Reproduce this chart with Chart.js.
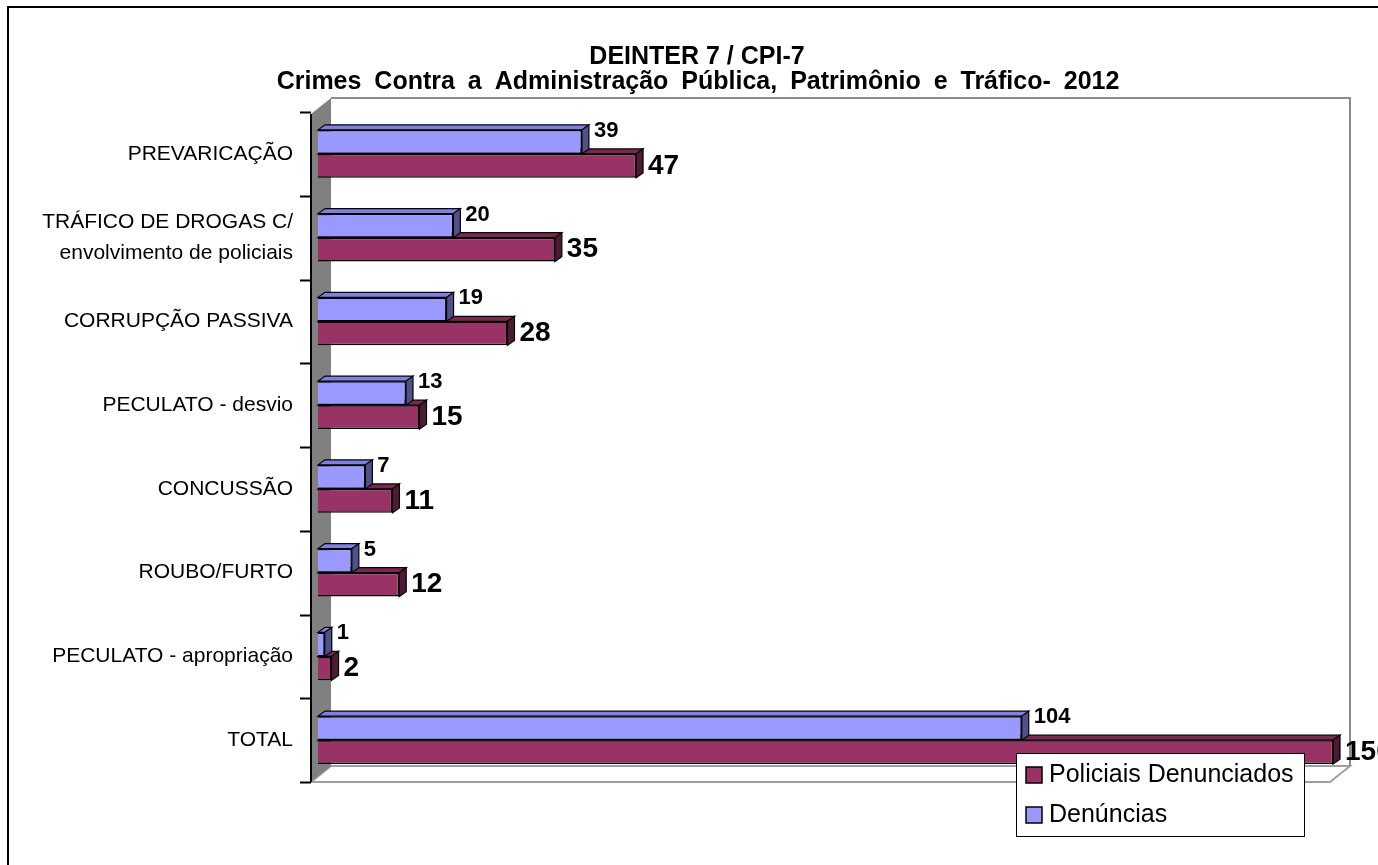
<!DOCTYPE html>
<html>
<head>
<meta charset="utf-8">
<script src="https://cdn.jsdelivr.net/npm/chart.js@4.4.1/dist/chart.umd.min.js"></script>
<style>
  body { margin: 0; background: #fff; }
  canvas { display: block; }
</style>
</head>
<body>
<canvas id="chart" width="1378" height="865"></canvas>
<script>
const categories = [
  'PREVARICAÇÃO',
  ['TRÁFICO DE DROGAS C/', 'envolvimento de policiais'],
  'CORRUPÇÃO PASSIVA',
  'PECULATO - desvio',
  'CONCUSSÃO',
  'ROUBO/FURTO',
  'PECULATO - apropriação',
  'TOTAL'
];
const denuncias = [39, 20, 19, 13, 7, 5, 1, 104];
const policiais = [47, 35, 28, 15, 11, 12, 2, 150];
const xMax = 150;
const titleLines = ['DEINTER 7 / CPI-7', 'Crimes Contra a Administração Pública, Patrimônio e Tráfico- 2012'];

const FONT = '"Liberation Sans", Arial, sans-serif';
const DEPTH_X = 7, DEPTH_Y = 5;     // bar extrusion
const WALL_X = 20, WALL_Y = 16;     // wall / floor depth

// side and top colours of the 3D bars
const shades = {
  '#9999ff': { top: '#8080e0', side: '#50508a' },
  '#993366': { top: '#7a2850', side: '#4e1a34' }
};

const threeD = {
  id: 'threeD',
  beforeDatasetsDraw(chart) {
    const { ctx, chartArea } = chart;
    const { top, bottom, right } = chartArea;
    const x0 = chartArea.left - 7;
    ctx.save();

    // floor
    ctx.fillStyle = '#ffffff';
    ctx.strokeStyle = '#a0a0a0';
    ctx.lineWidth = 2;
    ctx.beginPath();
    ctx.moveTo(x0, bottom);
    ctx.lineTo(right - 3, bottom);
    ctx.lineTo(right - 3 + WALL_X, bottom - WALL_Y);
    ctx.lineTo(x0 + WALL_X, bottom - WALL_Y);
    ctx.closePath();
    ctx.fill();
    ctx.stroke();

    // back wall outline
    ctx.strokeStyle = '#8c8c8c';
    ctx.beginPath();
    ctx.moveTo(x0 + WALL_X, top - WALL_Y + 2);
    ctx.lineTo(right - 3 + WALL_X, top - WALL_Y + 2);
    ctx.lineTo(right - 3 + WALL_X, bottom - WALL_Y);
    ctx.stroke();

    // left wall
    ctx.fillStyle = '#808080';
    ctx.beginPath();
    ctx.moveTo(x0, bottom);
    ctx.lineTo(x0, top + 2);
    ctx.lineTo(x0 + WALL_X, top - WALL_Y + 2);
    ctx.lineTo(x0 + WALL_X, bottom - WALL_Y);
    ctx.closePath();
    ctx.fill();

    // axis line and tick marks
    ctx.strokeStyle = '#000';
    ctx.lineWidth = 2;
    ctx.beginPath();
    ctx.moveTo(x0, top + 2);
    ctx.lineTo(x0, bottom);
    const step = (bottom - top) / categories.length;
    for (let i = 0; i <= categories.length; i++) {
      const y = Math.round(top + i * step) + 0.5;
      ctx.moveTo(x0 - 11, y);
      ctx.lineTo(x0, y);
    }
    ctx.stroke();

    // extrusions: lower series first so the upper one overlaps it
    ctx.lineWidth = 1.2;
    ctx.strokeStyle = '#000';
    [1, 0].forEach(di => {
      const meta = chart.getDatasetMeta(di);
      const col = chart.data.datasets[di].backgroundColor;
      meta.data.forEach(bar => {
        const l = bar.base, r = bar.x;
        const t = bar.y - bar.height / 2, b = bar.y + bar.height / 2;
        // top face
        ctx.fillStyle = shades[col].top;
        ctx.beginPath();
        ctx.moveTo(l, t);
        ctx.lineTo(l + DEPTH_X, t - DEPTH_Y);
        ctx.lineTo(r + DEPTH_X, t - DEPTH_Y);
        ctx.lineTo(r, t);
        ctx.closePath();
        ctx.fill();
        ctx.stroke();
        // side face
        ctx.fillStyle = shades[col].side;
        ctx.beginPath();
        ctx.moveTo(r, t);
        ctx.lineTo(r + DEPTH_X, t - DEPTH_Y);
        ctx.lineTo(r + DEPTH_X, b - DEPTH_Y);
        ctx.lineTo(r, b);
        ctx.closePath();
        ctx.fill();
        ctx.stroke();
      });
    });
    ctx.restore();
  },
  afterDatasetsDraw(chart) {
    const { ctx } = chart;
    ctx.save();
    ctx.fillStyle = '#000';
    ctx.textAlign = 'left';
    ctx.textBaseline = 'middle';
    chart.data.datasets.forEach((ds, di) => {
      chart.getDatasetMeta(di).data.forEach((bar, i) => {
        if (di === 0) {
          ctx.font = 'bold 22px ' + FONT;
          ctx.fillText(ds.data[i], bar.x + DEPTH_X + 5, bar.y - bar.height / 2 + 1);
        } else {
          ctx.font = 'bold 28px ' + FONT;
          ctx.fillText(ds.data[i], bar.x + DEPTH_X + 5, bar.y);
        }
      });
    });
    ctx.restore();
  },
  afterDraw(chart) {
    const { ctx } = chart;
    ctx.save();
    // title
    ctx.fillStyle = '#000';
    ctx.textAlign = 'center';
    ctx.textBaseline = 'middle';
    ctx.font = 'bold 25px ' + FONT;
    ctx.fillText(titleLines[0], 697, 57);
    if ('wordSpacing' in ctx) ctx.wordSpacing = '6px';
    ctx.fillText(titleLines[1], 698, 82);
    if ('wordSpacing' in ctx) ctx.wordSpacing = '0px';

    // legend box
    const lx = 1016, ly = 753, lw = 288, lh = 83;
    ctx.fillStyle = '#fff';
    ctx.fillRect(lx, ly, lw, lh);
    ctx.strokeStyle = '#000';
    ctx.lineWidth = 1;
    ctx.strokeRect(lx + 0.5, ly + 0.5, lw, lh);
    const items = chart.data.datasets.slice().reverse();
    ctx.font = '25px ' + FONT;
    ctx.textAlign = 'left';
    items.forEach((ds, i) => {
      const y = ly + 22 + i * 40;
      ctx.fillStyle = ds.backgroundColor;
      ctx.fillRect(lx + 10, y - 8, 16, 16);
      ctx.lineWidth = 1.5;
      ctx.strokeRect(lx + 10, y - 8, 16, 16);
      ctx.fillStyle = '#000';
      ctx.fillText(ds.label, lx + 33, y);
    });
    // outer frame
    ctx.strokeStyle = '#000';
    ctx.lineWidth = 2;
    ctx.strokeRect(8, 7, 1400, 900);
    ctx.restore();
  }
};

new Chart(document.getElementById('chart'), {
  type: 'bar',
  data: {
    labels: categories,
    datasets: [
      {
        label: 'Denúncias',
        data: denuncias,
        backgroundColor: '#9999ff',
        borderColor: '#000',
        borderWidth: 1.5
      },
      {
        label: 'Policiais Denunciados',
        data: policiais,
        backgroundColor: '#993366',
        borderColor: '#000',
        borderWidth: 1.5
      }
    ]
  },
  options: {
    indexAxis: 'y',
    responsive: false,
    animation: false,
    categoryPercentage: 0.573,
    barPercentage: 1,
    layout: { padding: { left: 10, right: 45, top: 112, bottom: 83 } },
    scales: {
      x: { min: 0, max: xMax, display: false },
      y: {
        grid: { display: false, drawTicks: false, tickLength: 0 },
        border: { display: false },
        ticks: {
          padding: 25,
          color: '#000',
          font: { family: FONT, size: 21, lineHeight: 1.45 }
        },
        afterFit(scale) { scale.width = 308; }
      }
    },
    plugins: {
      legend: { display: false },
      tooltip: { enabled: false },
      title: { display: false }
    }
  },
  plugins: [threeD]
});
</script>
</body>
</html>
